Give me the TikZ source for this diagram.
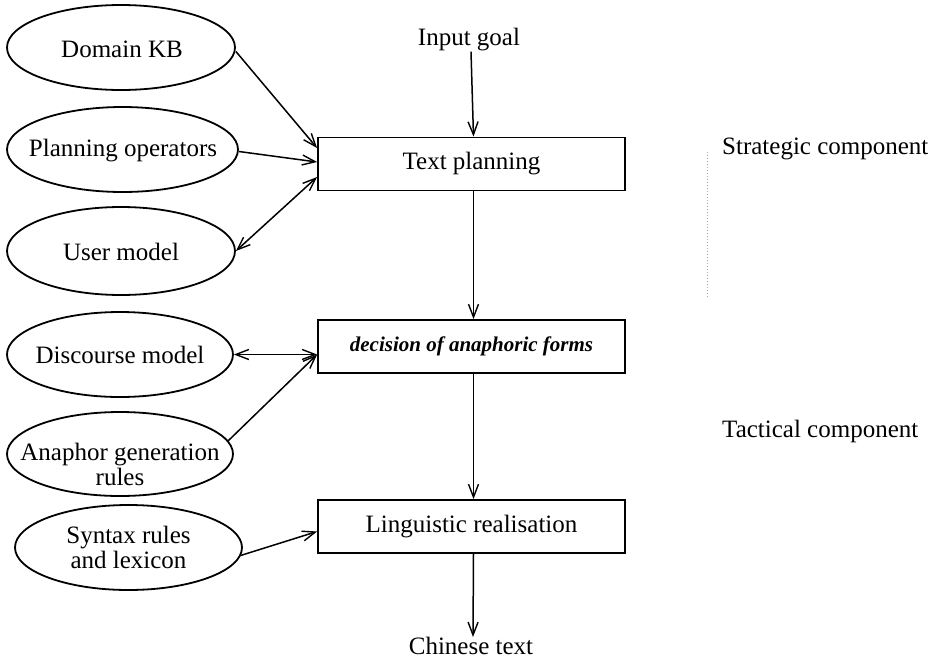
\documentclass[tikz,border=0pt]{standalone}
\usepackage{fontspec}
\setmainfont{Liberation Serif}
\usetikzlibrary{shapes.geometric,arrows.meta}

\tikzset{
  oval/.style={draw, ellipse, line width=1.8pt, inner sep=0pt},
  stage/.style={draw, rectangle, line width=1.8pt, minimum width=307pt,
                minimum height=53pt, inner sep=0pt, font=\fontsize{25}{25}\selectfont},
  lbl/.style={inner sep=0pt, align=center, font=\fontsize{25}{25}\selectfont},
  barb/.tip={Straight Barb[length=13pt,width=10pt,line width=1.4pt]},
  flow/.style={line width=1.5pt, -barb},
  twoway/.style={line width=1.5pt, barb-barb},
}

\begin{document}
\begin{tikzpicture}[x=1pt, y=-1pt]
  \useasboundingbox (0,0) rectangle (938,662);

  % knowledge sources
  \node[oval, minimum width=228pt, minimum height=85pt] (dkb) at (121,47.5) {};
  \node[lbl] (dkbt) at (122,49) {Domain KB};
  \node[oval, minimum width=231pt, minimum height=85pt] (po) at (122.5,149.5) {};
  \node[lbl] (pot) at (123,151) {Planning operators};
  \node[oval, minimum width=228pt, minimum height=88pt] (um) at (121,251) {};
  \node[lbl] (umt) at (121,252) {User model};
  \node[oval, minimum width=226pt, minimum height=85pt] (dm) at (120,354.5) {};
  \node[lbl] (dmt) at (120,355) {Discourse model};
  \node[oval, minimum width=226pt, minimum height=84pt] (ag) at (120,454) {};
  \node[lbl] (agt) at (120,464) {Anaphor generation\\rules};
  \node[oval, minimum width=227pt, minimum height=85pt] (sx) at (128.5,547.5) {};
  \node[lbl] (sxt) at (128.5,547) {Syntax rules\\and lexicon};

  % processing stages
  \node[lbl] (ig) at (469,40) {Input goal};
  \node[stage] (tp) at (471.5,164) {\raisebox{-3pt}{Text planning}};
  \node[stage, minimum height=53pt, font=\fontsize{21}{21}\selectfont\bfseries\itshape]
       (dec) at (471.5,346.5) {decision of anaphoric forms};
  \node[stage] (lr) at (471.5,526.5) {\raisebox{-2pt}{Linguistic realisation}};
  \node[lbl] (ct) at (471,646) {Chinese text};

  % component labels
  \node[lbl, anchor=west] (strat) at (722,149) {Strategic component};
  \node[lbl, anchor=west] (tact) at (722,431) {Tactical component};
  \draw[black!35, dotted, line width=1pt] (707,152) -- (707,297);

  % main flow
  \draw[flow] ([xshift=2pt]ig.south) -- ([xshift=2pt]tp.north);
  \draw[flow] ([xshift=2pt]tp.south) -- ([xshift=2pt]dec.north);
  \draw[flow] ([xshift=2pt]dec.south) -- ([xshift=2pt]lr.north);
  \draw[flow] ([xshift=2pt]lr.south) -- ([xshift=2pt]ct.north);

  % knowledge source links
  \draw[flow] ([yshift=-4pt]dkb.east) -- ([yshift=16pt]tp.west);
  \draw[flow] ([yshift=-2pt]po.east) -- ([yshift=2pt]tp.west);
  \draw[twoway] (um.east) -- ([yshift=-13pt]tp.west);
  \draw[twoway] (dm.east) -- (dm.east -| dec.west);
  \draw[flow] (ag.7) -- ([yshift=-8pt]dec.west);
  \draw[flow] (sx.-4) -- ([yshift=-5pt]lr.west);
\end{tikzpicture}
\end{document}
